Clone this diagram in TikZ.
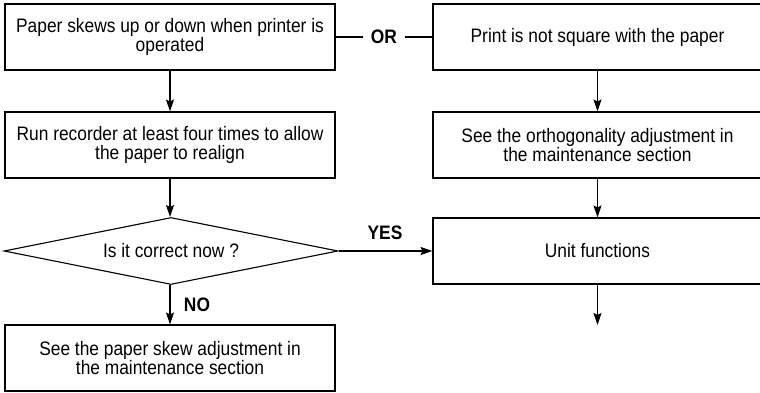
\documentclass[tikz,border=0pt]{standalone}
\usepackage{fontspec}
\setmainfont{Liberation Sans}[FakeStretch=0.89]
\usetikzlibrary{shapes.geometric,arrows.meta}

\begin{document}
\begin{tikzpicture}[x=1pt, y=1pt, line width=1.1pt, >={Stealth[length=12pt,width=8pt,inset=2pt]}]
	\tikzstyle{every node} = [font=\fontsize{19.5}{19}\selectfont]
	\tikzstyle{box} = [draw, rectangle, minimum height=66pt, inner sep=0pt, align=center]
	\tikzstyle{lbox} = [box, minimum width=330pt]
	\tikzstyle{rbox} = [box, minimum width=329pt]
	\tikzstyle{tag} = [inner sep=7pt, font=\fontsize{19.5}{19}\selectfont\bfseries]
	\useasboundingbox (0,0) rectangle (760,393);
	\node[lbox] (p1) at (170, 356) {Paper skews up or down when printer is\\operated};
	\node[lbox] (p2) at (170, 248) {Run recorder at least four times to allow\\the paper to realign};
	\node[draw, diamond, aspect=5, inner sep=0pt, minimum width=334pt, minimum height=67pt] (q) at (171, 142) {Is it correct now ?};
	\node[lbox] (p3) at (170, 35) {See the paper skew adjustment in\\the maintenance section};
	\node[rbox] (r1) at (597.5, 356) {Print is not square with the paper};
	\node[rbox] (r2) at (597.5, 248) {See the orthogonality adjustment in\\the maintenance section};
	\node[rbox] (r3) at (597.5, 142) {Unit functions};
	\node[tag] (or) at (384, 356) {OR};
	\node[tag] (yes) at (385, 160) {YES};
	\node[tag] (no) at (197, 88) {NO};
	\coordinate (out) at (597.5, 68);
	\draw (p1)--(or);
	\draw (or)--(r1);
	\draw [->] (p1)--(p2);
	\draw [->] (p2.south)--(q.north -| p2.south);
	\draw [->] (q.south -| p3.north)--(p3);
	\draw [->] (q.east)--(r3.west);
	\draw [->] (r1)--(r2);
	\draw [->] (r2)--(r3);
	\draw [->] (r3)--(out);
\end{tikzpicture}
\end{document}
